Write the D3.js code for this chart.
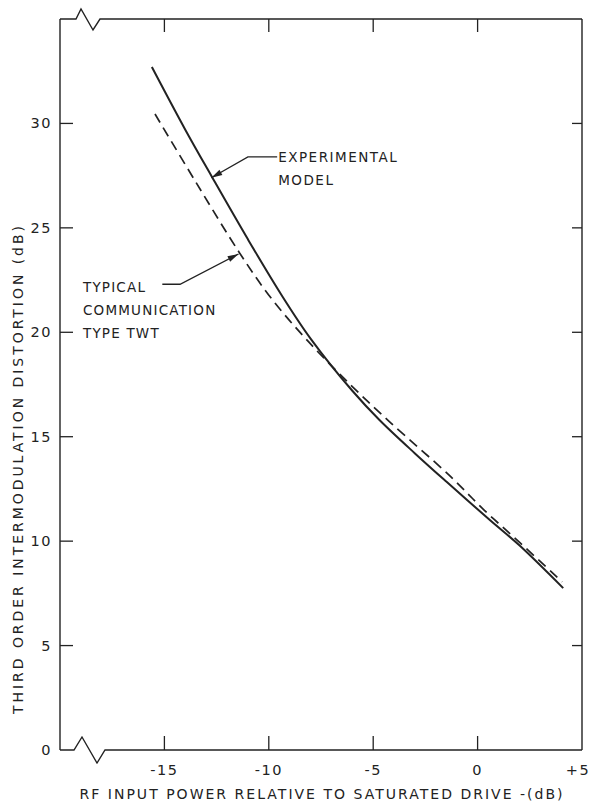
<!DOCTYPE html>
<html><head><meta charset="utf-8">
<script src="https://cdn.jsdelivr.net/npm/d3@7"></script>
<style>
html,body{margin:0;padding:0;background:#fff;}
svg{display:block;}
text{font-family:"DejaVu Sans",sans-serif;fill:#222;}
</style></head>
<body>
<script>
// ---- data ----
const xDomain = [-20, 5];
const yDomain = [0, 35];
const xTickValues = [-15, -10, -5, 0, 5];
const xTickLabels = ["-15", "-10", "-5", "0", "+5"];
const yTickValues = [0, 5, 10, 15, 20, 25, 30];
const yTickLabels = ["0", "5", "10", "15", "20", "25", "30"];

const experimentalX = [-15.6, -14, -12.7, -11, -9.4, -8, -6, -4.7, -3, -1.5, 0.6, 2, 4.1];
const experimentalY = [32.7, 29.7, 27.4, 24.45, 21.8, 19.7, 17.2, 15.8, 14.2, 12.85, 11.0, 9.8, 7.75];
const typicalX = [-15.45, -13.5, -11.4, -9.9, -8.1, -6, -4.2, -1.3, 0.3, 2, 4.05];
const typicalY = [30.45, 27.2, 23.8, 21.65, 19.55, 17.4, 15.7, 13.1, 11.5, 9.95, 8.05];

const xTitle = "RF INPUT POWER RELATIVE TO SATURATED DRIVE -(dB)";
const yTitle = "THIRD ORDER INTERMODULATION DISTORTION (dB)";
const expLabel = ["EXPERIMENTAL", "MODEL"];
const typLabel = ["TYPICAL", "COMMUNICATION", "TYPE TWT"];

// ---- layout ----
const W = 592, H = 803;
const m = {left: 60, right: 10, top: 19, bottom: 53};
const x = d3.scaleLinear().domain(xDomain).range([m.left, W - m.right]);
const y = d3.scaleLinear().domain(yDomain).range([H - m.bottom, m.top]);
const ink = "#222";

const svg = d3.select("body").append("svg").attr("width", W).attr("height", H);

// frame with axis breaks
const x0 = x(xDomain[0]), x1 = x(xDomain[1]), yT = y(yDomain[1]), yB = y(yDomain[0]);
const frame = svg.append("g").attr("fill", "none").attr("stroke", ink).attr("stroke-width", 1.4);
frame.append("path").attr("d", `M${x1},${yB} L${x1},${yT}`);
frame.append("path").attr("d", `M${x0},${yB} L${x0},${yT}`);
frame.append("path").attr("d",
  `M${x0},${yT} L${x0+16},${yT} L${x0+21},${yT-10} L${x0+33},${yT+11} L${x0+40},${yT} L${x1},${yT}`);
frame.append("path").attr("d",
  `M${x0},${yB} L${x0+14},${yB} L${x0+22},${yB-13} L${x0+37},${yB+13} L${x0+45},${yB} L${x1},${yB}`);

// ticks (inward)
const tickG = svg.append("g").attr("stroke", ink).attr("stroke-width", 1.3);
xTickValues.filter(v => v < xDomain[1]).forEach(v => {
  tickG.append("line").attr("x1", x(v)).attr("x2", x(v)).attr("y1", yB).attr("y2", yB - 14);
  tickG.append("line").attr("x1", x(v)).attr("x2", x(v)).attr("y1", yT).attr("y2", yT + 13);
});
yTickValues.filter(v => v > 0).forEach(v => {
  tickG.append("line").attr("x1", x0).attr("x2", x0 + 13).attr("y1", y(v)).attr("y2", y(v));
  tickG.append("line").attr("x1", x1).attr("x2", x1 - 10).attr("y1", y(v)).attr("y2", y(v));
});

// tick labels
svg.append("g").selectAll("text").data(xTickValues).join("text")
  .attr("x", (d) => x(d) - (d === 5 ? 4 : 0))
  .attr("y", yB + 25)
  .attr("text-anchor", "middle")
  .attr("font-size", 14.5).attr("letter-spacing", 1.5)
  .text((d, i) => xTickLabels[i]);
svg.append("g").selectAll("text").data(yTickValues).join("text")
  .attr("x", x0 - 8)
  .attr("y", d => y(d) + 5)
  .attr("text-anchor", "end")
  .attr("font-size", 14.5).attr("letter-spacing", 1.5)
  .text((d, i) => yTickLabels[i]);

// axis titles
svg.append("text").attr("x", 321).attr("y", 799).attr("text-anchor", "middle")
  .attr("font-size", 14).attr("textLength", 483).attr("lengthAdjust", "spacing").text(xTitle);
svg.append("text").attr("transform", "translate(23,470) rotate(-90)").attr("text-anchor", "middle")
  .attr("font-size", 14).attr("textLength", 488).attr("lengthAdjust", "spacing").text(yTitle);

// curves
const line = d3.line().x(d => x(d[0])).y(d => y(d[1])).curve(d3.curveCatmullRom.alpha(0.5));
const expData = experimentalX.map((v, i) => [v, experimentalY[i]]);
const typData = typicalX.map((v, i) => [v, typicalY[i]]);
svg.append("path").datum(typData).attr("d", line).attr("fill", "none")
  .attr("stroke", ink).attr("stroke-width", 1.7).attr("stroke-dasharray", "10,6");
svg.append("path").datum(expData).attr("d", line).attr("fill", "none")
  .attr("stroke", ink).attr("stroke-width", 2);

// annotations (anchor points in data units)
function arrow(pts) {
  const p = pts.map(d => [x(d[0]), y(d[1])]);
  svg.append("path").attr("d", d3.line()(p)).attr("fill", "none").attr("stroke", ink).attr("stroke-width", 1.3);
  const a = p[p.length - 1], b = p[p.length - 2];
  const ang = Math.atan2(a[1] - b[1], a[0] - b[0]);
  const L = 11, Wd = 3;
  const bx = a[0] - L * Math.cos(ang), by = a[1] - L * Math.sin(ang);
  const nx = -Math.sin(ang) * Wd, ny = Math.cos(ang) * Wd;
  svg.append("path").attr("d", `M${a[0]},${a[1]} L${bx+nx},${by+ny} L${bx-nx},${by-ny} Z`).attr("fill", ink);
}
arrow([[-9.6, 28.4], [-11.0, 28.4], [-12.75, 27.4]]);
arrow([[-15.1, 22.3], [-14.25, 22.3], [-11.45, 23.75]]);

svg.append("g").selectAll("text").data(expLabel).join("text")
  .attr("x", x(-9.55)).attr("y", (d, i) => y(28.4) + 5 + i * 23)
  .attr("font-size", 13.5).attr("letter-spacing", 1.5).text(d => d);
svg.append("g").selectAll("text").data(typLabel).join("text")
  .attr("x", x(-18.9)).attr("y", (d, i) => y(22.15) + 5 + i * 23)
  .attr("font-size", 13.5).attr("letter-spacing", 1.2).text(d => d);
</script>
</body></html>
